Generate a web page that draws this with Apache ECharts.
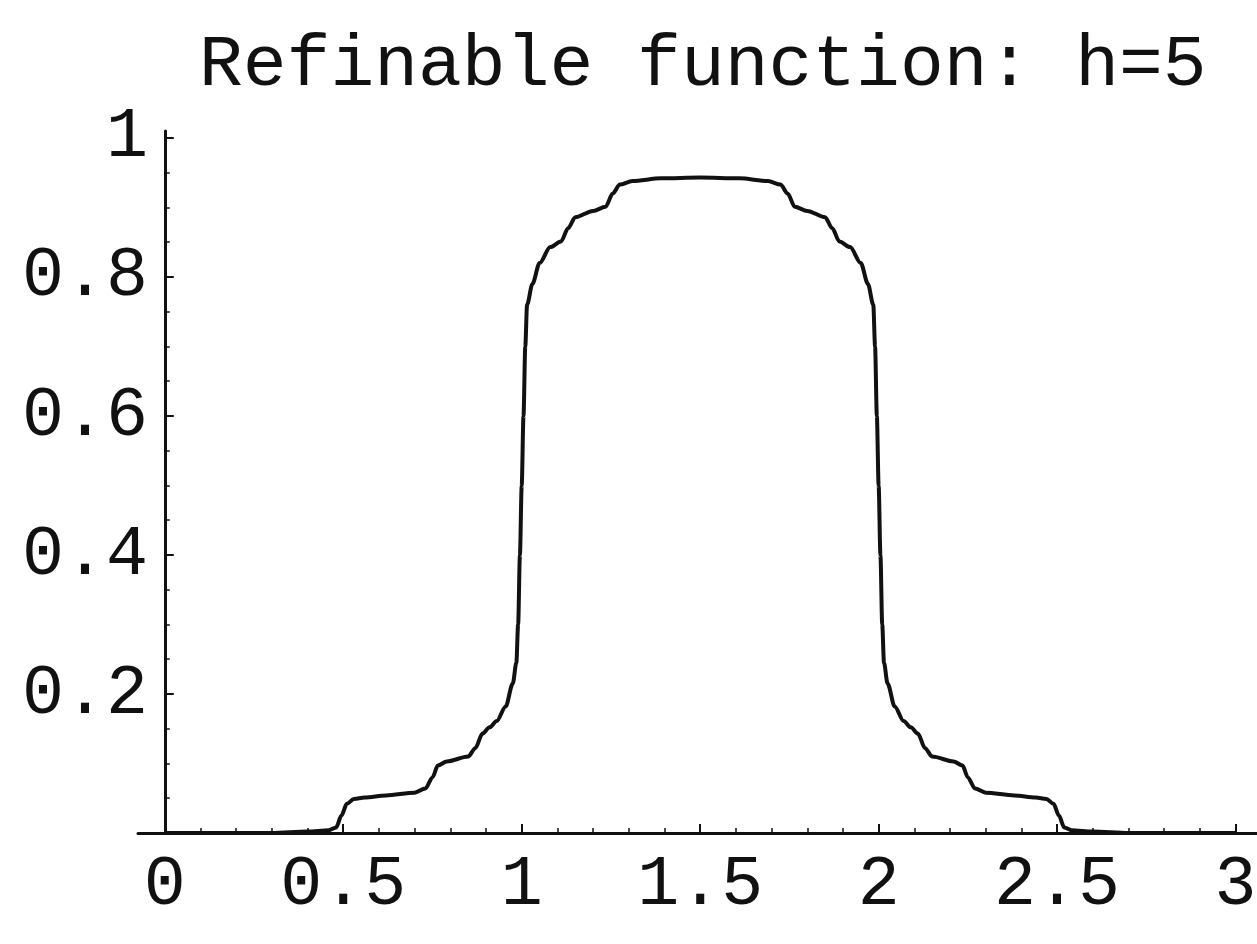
<!DOCTYPE html>
<html>
<head>
<meta charset="utf-8">
<script src="https://cdn.jsdelivr.net/npm/echarts@6/dist/echarts.min.js"></script>
<style>
  html, body { margin: 0; padding: 0; background: #fff; }
  #chart { width: 1257px; height: 944px; }
</style>
</head>
<body>
<div id="chart"></div>
<script>
const titleText = 'Refinable function: h=5';

const xs = [0, 0.3, 0.4, 0.46, 0.48, 0.495, 0.51, 0.53, 0.56, 0.62, 0.70, 0.73, 0.75, 0.765, 0.79, 0.85, 0.87, 0.89, 0.91, 0.93, 0.955, 0.975, 0.985, 0.99, 0.995, 1.0, 1.005, 1.01, 1.015, 1.03, 1.05, 1.08, 1.11, 1.13, 1.15, 1.2, 1.235, 1.255, 1.275, 1.31, 1.39, 1.5, 1.61, 1.69, 1.725, 1.745, 1.765, 1.8, 1.85, 1.87, 1.89, 1.92, 1.95, 1.97, 1.985, 1.99, 1.995, 2.0, 2.005, 2.01, 2.015, 2.025, 2.045, 2.07, 2.09, 2.11, 2.13, 2.15, 2.21, 2.235, 2.25, 2.27, 2.30, 2.38, 2.44, 2.47, 2.49, 2.505, 2.52, 2.54, 2.6, 2.7, 3.0];
const ys = [0, 0, 0.002, 0.004, 0.008, 0.025, 0.042, 0.049, 0.051, 0.054, 0.058, 0.064, 0.08, 0.097, 0.103, 0.110, 0.122, 0.143, 0.152, 0.161, 0.182, 0.215, 0.245, 0.30, 0.40, 0.50, 0.60, 0.70, 0.76, 0.79, 0.82, 0.843, 0.851, 0.87, 0.886, 0.895, 0.901, 0.92, 0.933, 0.938, 0.942, 0.943, 0.942, 0.938, 0.933, 0.92, 0.901, 0.895, 0.886, 0.87, 0.851, 0.843, 0.82, 0.79, 0.76, 0.70, 0.60, 0.50, 0.40, 0.30, 0.245, 0.215, 0.182, 0.161, 0.152, 0.143, 0.122, 0.110, 0.103, 0.097, 0.08, 0.064, 0.058, 0.054, 0.051, 0.049, 0.042, 0.025, 0.008, 0.004, 0.002, 0, 0];

const xTickValues = [0, 0.5, 1, 1.5, 2, 2.5, 3];
const xTickLabels = ['0', '0.5', '1', '1.5', '2', '2.5', '3'];
const xMinorTicks = [0.1, 0.2, 0.3, 0.4, 0.6, 0.7, 0.8, 0.9, 1.1, 1.2, 1.3, 1.4, 1.6, 1.7, 1.8, 1.9, 2.1, 2.2, 2.3, 2.4, 2.6, 2.7, 2.8, 2.9];
const yTickValues = [0.2, 0.4, 0.6, 0.8, 1];
const yTickLabels = ['0.2', '0.4', '0.6', '0.8', '1'];
const yMinorTicks = [0.05, 0.1, 0.15, 0.25, 0.3, 0.35, 0.45, 0.5, 0.55, 0.65, 0.7, 0.75, 0.85, 0.9, 0.95];

const points = xs.map((x, i) => [x, ys[i]]);
const FONT = 'Liberation Mono';
const INK = '#111';

const chart = echarts.init(document.getElementById('chart'), null, { renderer: 'canvas' });
chart.setOption({
  backgroundColor: '#fff',
  animation: false,
  title: {
    text: titleText,
    left: 194,
    top: 24,
    textStyle: { fontFamily: FONT, fontSize: 73, fontWeight: 'normal', color: INK }
  },
  grid: { left: 138, right: 0, top: 131, bottom: 111, containLabel: false, outerBoundsMode: 'none' },
  xAxis: [
    {
      type: 'value', min: -0.075, max: 3.06,
      axisLine: { onZero: true, lineStyle: { color: INK, width: 3 } },
      axisTick: { show: true, inside: true, length: 9, customValues: xTickValues, lineStyle: { color: INK, width: 2 } },
      axisLabel: {
        show: true, customValues: xTickValues, margin: 17,
        formatter: v => xTickLabels[xTickValues.indexOf(v)] ?? '',
        fontFamily: FONT, fontSize: 70, color: INK
      },
      splitLine: { show: false }
    },
    {
      type: 'value', min: -0.075, max: 3.06, position: 'bottom',
      axisLine: { show: false },
      axisTick: { show: true, inside: true, length: 5, customValues: xMinorTicks, lineStyle: { color: INK, width: 1.5 } },
      axisLabel: { show: false },
      splitLine: { show: false }
    }
  ],
  yAxis: [
    {
      type: 'value', min: 0, max: 1.01,
      axisLine: { onZero: true, onZeroAxisIndex: 0, lineStyle: { color: INK, width: 3 } },
      axisTick: { show: true, inside: true, length: 9, customValues: yTickValues, lineStyle: { color: INK, width: 2 } },
      axisLabel: {
        show: true, customValues: yTickValues, margin: -10,
        formatter: v => yTickLabels[yTickValues.indexOf(v)] ?? '',
        fontFamily: FONT, fontSize: 70, color: INK
      },
      splitLine: { show: false }
    },
    {
      type: 'value', min: 0, max: 1.01, position: 'left',
      axisLine: { show: false, onZero: true, onZeroAxisIndex: 0 },
      axisTick: { show: true, inside: true, length: 5, customValues: yMinorTicks, lineStyle: { color: INK, width: 1.5 } },
      axisLabel: { show: false },
      splitLine: { show: false }
    }
  ],
  series: [{
    type: 'line',
    data: points,
    xAxisIndex: 0,
    yAxisIndex: 0,
    showSymbol: false,
    smooth: 0.3,
    smoothMonotone: 'x',
    lineStyle: { color: INK, width: 4 },
    z: 3
  }]
});
</script>
</body>
</html>
